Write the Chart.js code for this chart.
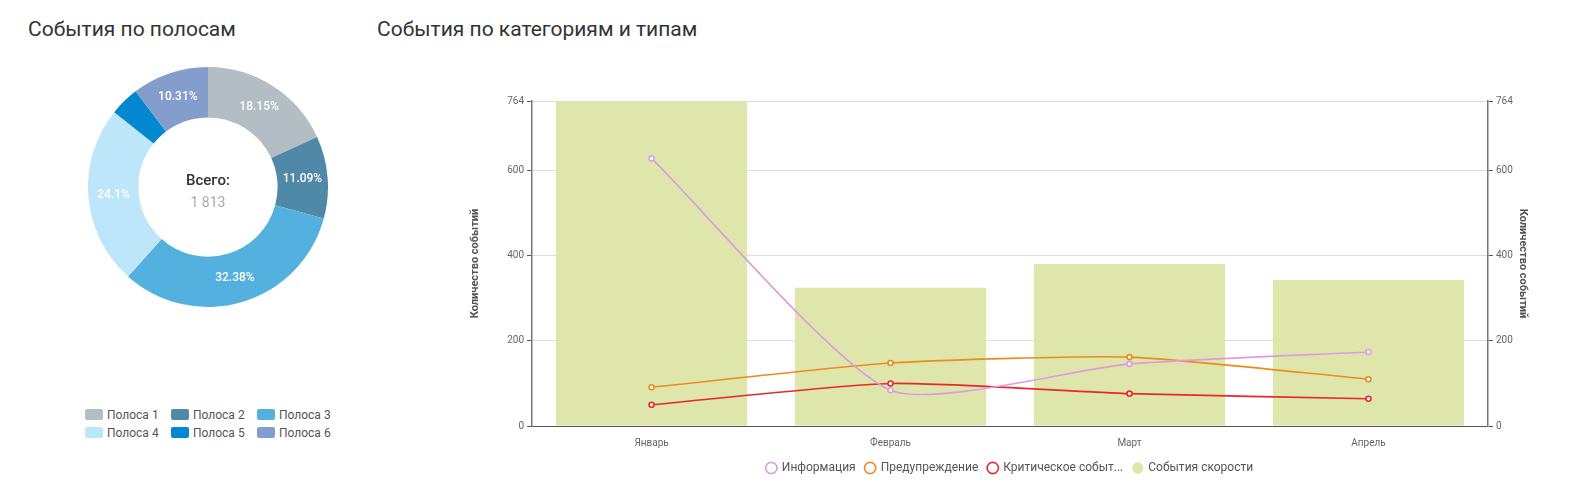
<!DOCTYPE html>
<html>
<head>
<meta charset="utf-8">
<script src="https://cdn.jsdelivr.net/npm/chart.js@4"></script>
<style>
  body { margin: 0; background: #fff; font-family: Roboto, sans-serif; width: 1587px; height: 498px; position: relative; overflow: hidden; }
  h2 { position: absolute; margin: 0; font-weight: 400; font-size: 21px; color: #333; top: 17px; }
  #box1 { position: absolute; left: 88px; top: 67px; width: 240px; height: 240px; }
  #box2 { position: absolute; left: 455px; top: 92px; width: 1110px; height: 392px; }
  #laneLegend { position: absolute; left: 85px; top: 408px; width: 270px; display: grid; grid-template-columns: 86px 86px 86px; row-gap: 4px; font-size: 12px; color: #555; }
  #laneLegend span.sw { display: inline-block; width: 18px; height: 11px; border-radius: 2px; margin-right: 4px; vertical-align: -1px; }
</style>
</head>
<body>
<h2 style="left:28px">События по полосам</h2>
<h2 style="left:377px">События по категориям и типам</h2>
<div id="box1"><canvas id="chartLanes"></canvas></div>
<div id="laneLegend"></div>
<div id="box2"><canvas id="chartTypes"></canvas></div>
<script>
const laneLabels = ['Полоса 1', 'Полоса 2', 'Полоса 3', 'Полоса 4', 'Полоса 5', 'Полоса 6'];
const laneValues = [329, 201, 587, 437, 72, 187];
const laneColors = ['#b2bec4', '#5089a8', '#54b0de', '#bde6fb', '#0388d0', '#839dcc'];

const months = ['Январь', 'Февраль', 'Март', 'Апрель'];
const infoValues = [629, 84, 146, 174];
const warnValues = [91, 148, 162, 110];
const critValues = [50, 100, 76, 64];
const speedValues = [764, 325, 381, 343];
const yTicks = [0, 200, 400, 600, 764];

Chart.defaults.font.family = 'Roboto, sans-serif';

const total = laneValues.reduce((a, b) => a + b, 0);

// html legend for lanes
const legendBox = document.getElementById('laneLegend');
laneLabels.forEach((l, i) => {
    legendBox.insertAdjacentHTML('beforeend', `<div><span class="sw" style="background:${laneColors[i]}"></span>${l}</div>`);
});

const centerText = {
    id: 'centerText',
    afterDraw(chart) {
        const ctx = chart.ctx;
        const meta = chart.getDatasetMeta(0);
        const arc = meta.data[0];
        if (!arc) return;
        ctx.save();
        ctx.textAlign = 'center';
        ctx.font = '500 15px Roboto';
        ctx.fillStyle = '#333';
        ctx.fillText('Всего:', arc.x, arc.y - 2);
        ctx.font = '14px Roboto';
        ctx.fillStyle = '#aaa';
        ctx.fillText(total.toLocaleString('ru-RU').replace(/\s/g, ' '), arc.x, arc.y + 20);
        // slice percentages
        ctx.font = '500 12px Roboto';
        ctx.fillStyle = '#fff';
        ctx.textBaseline = 'middle';
        meta.data.forEach((a, i) => {
            const pct = laneValues[i] / total * 100;
            if (pct < 5) return;
            const p = a.tooltipPosition();
            ctx.fillText(String(Math.round(pct * 100) / 100) + '%', p.x, p.y);
        });
        ctx.restore();
    }
};

new Chart(document.getElementById('chartLanes'), {
    type: 'doughnut',
    data: {
        labels: laneLabels,
        datasets: [{ data: laneValues, backgroundColor: laneColors, borderWidth: 0 }]
    },
    options: {
        responsive: true,
        maintainAspectRatio: false,
        animation: false,
        cutout: '58%',
        plugins: { tooltip: { enabled: false }, legend: { display: false } }
    },
    plugins: [centerText]
});

const lineStyle = (label, data, color) => ({
    type: 'line', label, data, borderColor: color, backgroundColor: color,
    pointBackgroundColor: '#fff', pointBorderColor: color, pointRadius: 2.5, borderWidth: 1.6,
    tension: 0.2, yAxisID: 'y', order: 0
});

const axisTitle = { display: true, text: 'Количество событий', color: '#555', font: { size: 11, weight: 'bold' } };
const tickSetter = axis => { axis.ticks = yTicks.map(v => ({ value: v })); };

new Chart(document.getElementById('chartTypes'), {
    data: {
        labels: months,
        datasets: [
            lineStyle('Информация', infoValues, '#dd9ce0'),
            lineStyle('Предупреждение', warnValues, '#ec8c1a'),
            lineStyle('Критическое событ...', critValues, '#e8282a'),
            { type: 'bar', label: 'События скорости', data: speedValues, backgroundColor: '#dfe6ab',
              categoryPercentage: 0.8, barPercentage: 1, yAxisID: 'y', order: 1 }
        ]
    },
    options: {
        responsive: true,
        maintainAspectRatio: false,
        animation: false,
        layout: { padding: { left: 14, right: 14, top: 7, bottom: 0 } },
        plugins: {
            tooltip: { enabled: false },
            legend: {
                position: 'bottom',
                labels: { usePointStyle: true, boxWidth: 9, boxHeight: 8, padding: 10, font: { size: 12 }, color: '#555' }
            }
        },
        scales: {
            x: {
                grid: { display: false, drawTicks: true },
                border: { color: '#555', width: 1 },
                ticks: { font: { size: 10 }, color: '#666' }
            },
            y: {
                position: 'left', min: 0, max: 764,
                afterBuildTicks: tickSetter,
                title: { ...axisTitle, padding: { top: 0, bottom: 22 } },
                grid: { color: '#ddd', tickColor: '#555', tickLength: 5 },
                border: { color: '#777', width: 1.5 },
                ticks: { font: { size: 10 }, color: '#666' }
            },
            y2: {
                position: 'right', min: 0, max: 764,
                afterBuildTicks: tickSetter,
                title: { ...axisTitle, padding: { top: 22, bottom: 0 } },
                grid: { drawOnChartArea: false, tickColor: '#555', tickLength: 5 },
                border: { color: '#777', width: 1.5 },
                ticks: { font: { size: 10 }, color: '#666' }
            }
        }
    }
});
</script>
</body>
</html>
